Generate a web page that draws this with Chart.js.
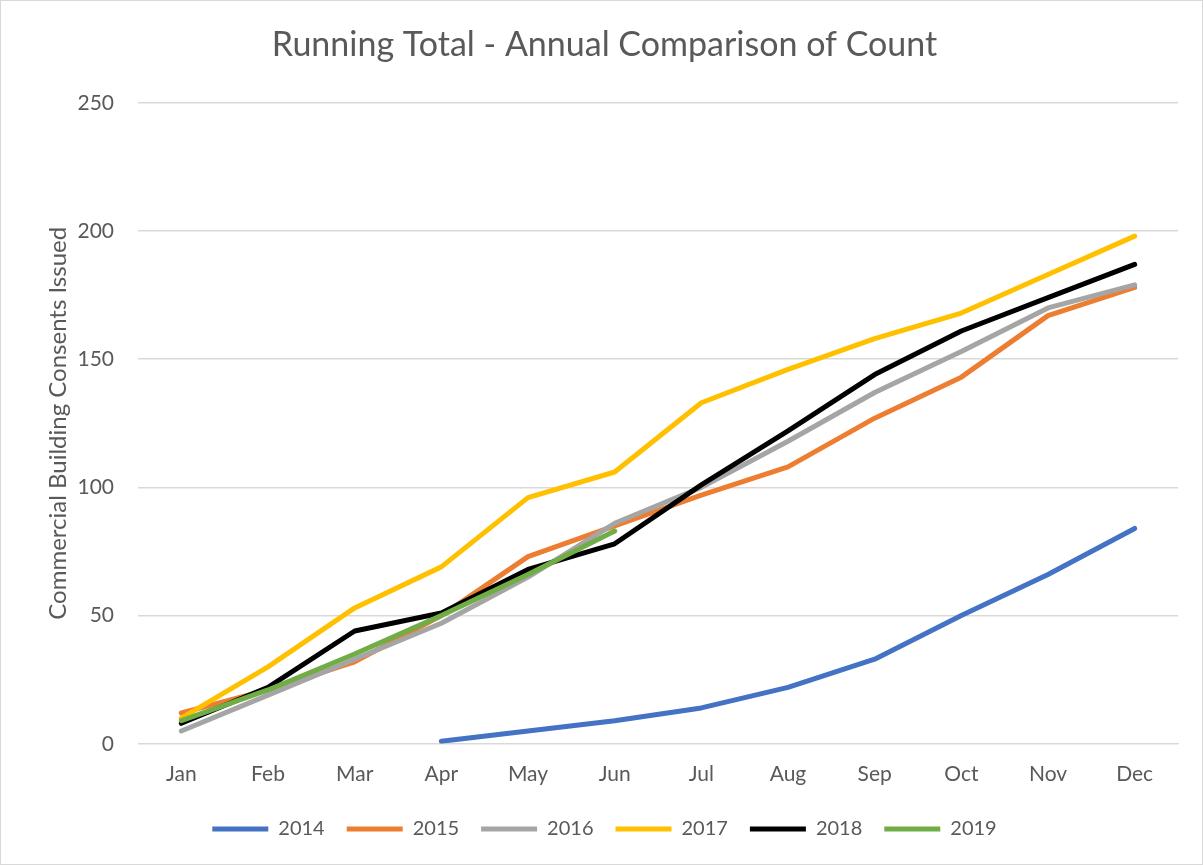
<!DOCTYPE html>
<html>
<head>
<meta charset="utf-8">
<script src="https://cdn.jsdelivr.net/npm/chart.js@4.4.0/dist/chart.umd.min.js"></script>
<style>
    html, body { margin: 0; padding: 0; background: #ffffff; }
    #caixa { width: 1201px; height: 863px; border: 1px solid #d9d9d9; }
</style>
</head>
<body>
<div id="caixa"><canvas id="grafico1" width="1201" height="863"></canvas></div>
<script>
// Meses (eixo x)
const meses = ['Jan', 'Feb', 'Mar', 'Apr', 'May', 'Jun', 'Jul', 'Aug', 'Sep', 'Oct', 'Nov', 'Dec'];

// Total acumulado por ano
const anos = ['2014', '2015', '2016', '2017', '2018', '2019'];
const v2014 = [null, null, null, 1, 5, 9, 14, 22, 33, 50, 66, 84];
const v2015 = [12, 21, 32, 50, 73, 85, 97, 108, 127, 143, 167, 178];
const v2016 = [5, 19, 33, 47, 65, 86, 100, 118, 137, 153, 170, 179];
const v2017 = [10, 30, 53, 69, 96, 106, 133, 146, 158, 168, 183, 198];
const v2018 = [8, 22, 44, 51, 68, 78, 101, 122, 144, 161, 174, 187];
const v2019 = [9, 21, 35, 50, 66, 83];

const ticksY = [0, 50, 100, 150, 200, 250];

const cores = ['#4472c4', '#ed7d31', '#a5a5a5', '#ffc000', '#000000', '#70ad47'];
const valores = [v2014, v2015, v2016, v2017, v2018, v2019];

const fonte = 'Lato, "Open Sans", sans-serif';
const cinza = '#595959';

const dados1 = {
    labels: meses,
    datasets: anos.map((ano, i) => ({
        label: ano,
        data: valores[i],
        borderColor: cores[i],
        backgroundColor: cores[i],
        borderWidth: 5,
        pointRadius: 0,
        tension: 0,
        borderCapStyle: 'round',
        borderJoinStyle: 'round',
        order: anos.length - i // 2019 por cima
    }))
};

const config1 = {
    type: 'line',
    data: dados1,
    options: {
        responsive: false,
        animation: false,
        layout: { padding: { left: 30, right: 24, top: 10, bottom: 15 } },
        plugins: {
            title: {
                display: true,
                text: 'Running Total - Annual Comparison of Count',
                color: cinza,
                font: { family: fonte, size: 34, weight: 'normal' },
                padding: { top: 14, bottom: 37 }
            },
            legend: {
                position: 'bottom',
                labels: {
                    color: cinza,
                    font: { family: fonte, size: 20 },
                    boxWidth: 56,
                    boxHeight: 5,
                    padding: 22,
                    sort: (a, b) => a.datasetIndex - b.datasetIndex,
                    generateLabels: (chart) => {
                        const itens = Chart.defaults.plugins.legend.labels.generateLabels(chart);
                        itens.forEach(it => { it.lineWidth = 0; });
                        return itens;
                    }
                }
            },
            tooltip: { enabled: false }
        },
        scales: {
            x: {
                offset: true,
                grid: { display: false },
                border: { color: '#d9d9d9' },
                ticks: { color: cinza, font: { family: fonte, size: 21 }, padding: 10 }
            },
            y: {
                min: 0,
                max: 250,
                afterBuildTicks: (eixo) => { eixo.ticks = ticksY.map(v => ({ value: v })); },
                afterFit: (eixo) => { eixo.width = 107; },
                grid: { color: '#d9d9d9', lineWidth: 1.5, drawTicks: false },
                border: { display: false },
                ticks: { color: cinza, font: { family: fonte, size: 21 }, padding: 24 },
                title: {
                    display: true,
                    text: 'Commercial Building Consents Issued',
                    color: cinza,
                    font: { family: fonte, size: 24 },
                    padding: { top: 13, bottom: 8 }
                }
            }
        }
    }
};

const grafico1 = new Chart(document.getElementById('grafico1'), config1);
</script>
</body>
</html>
